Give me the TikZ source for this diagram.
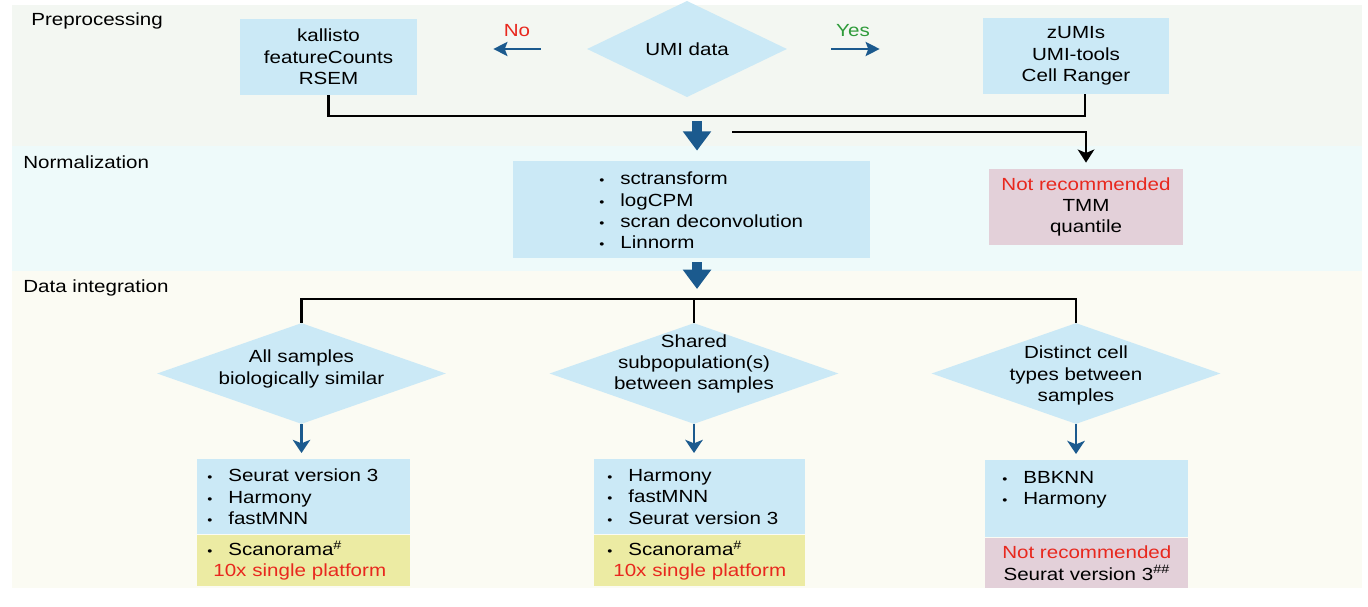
\documentclass[tikz,border=0pt]{standalone}
\usepackage{fontspec}
\setmainfont{Liberation Sans}[FakeStretch=1.17]
\usetikzlibrary{shapes.geometric,arrows.meta}
\definecolor{prepband}{HTML}{F3F7F2}
\definecolor{normband}{HTML}{EEFAFA}
\definecolor{intband}{HTML}{FBFBF3}
\definecolor{toolblue}{HTML}{CBE9F6}
\definecolor{warnpink}{HTML}{E3D0D9}
\definecolor{tenxyellow}{HTML}{ECEBA3}
\definecolor{flowblue}{HTML}{1B5A8E}
\definecolor{notred}{HTML}{E8281E}
\definecolor{yesgreen}{HTML}{2E9B3A}
\newcommand{\itm}{\makebox[0.42cm][l]{\scriptsize\textbullet}}

\begin{document}
\begin{tikzpicture}[x=0.02cm, y=-0.02cm, font=\fontsize{10}{12.2}\selectfont,
  tool/.style={rectangle, fill=toolblue, align=center, inner sep=0pt},
  warn/.style={rectangle, fill=warnpink, align=center, inner sep=0pt},
  tenx/.style={rectangle, fill=tenxyellow, align=left, inner sep=0pt},
  choice/.style={diamond, fill=toolblue, inner sep=0pt, minimum width=5.78cm, minimum height=2.02cm},
  link/.style={line width=1.2pt},
  bigarrow/.style={flowblue, line width=5.5pt, -{Triangle[length=11pt,width=15.5pt]}},
  smallarrow/.style={flowblue, line width=1.3pt, -{Stealth[length=7.5pt,width=10pt,inset=2pt]}}]
\useasboundingbox (0,0) rectangle (1368,607);
% bands
\fill[prepband] (12,5) rectangle (1362,146);
\fill[normband] (12,146) rectangle (1362,271);
\fill[intband] (12,271) rectangle (1362,588);
\node (preplabel) [anchor=base west, inner sep=0pt] at (31,26) {Preprocessing};
\node (normlabel) [anchor=base west, inner sep=0pt] at (23,169) {Normalization};
\node (intlabel) [anchor=base west, inner sep=0pt] at (23,293) {Data integration};

% preprocessing
\node (umi) [diamond, fill=toolblue, inner sep=0pt, minimum width=4cm, minimum height=1.36cm] at (687,49) {UMI data};
\node (kal) [tool, minimum width=3.54cm, minimum height=1.52cm] at (328.5,57) {kallisto\\featureCounts\\RSEM};
\node (zumi) [tool, minimum width=3.72cm, minimum height=1.52cm] at (1076,56) {zUMIs\\UMI-tools\\Cell Ranger};
\draw[flowblue, line width=1.4pt, -{Stealth[length=8pt,width=8pt,inset=1.5pt]}, shorten <=0.92cm, shorten >=1.52cm] (umi.west) -- (umi.west -| kal.east);
\draw[flowblue, line width=1.4pt, -{Stealth[length=8pt,width=8pt,inset=1.5pt]}, shorten <=0.88cm, shorten >=2.06cm] (umi.east) -- (umi.east -| zumi.west);
\node (no) [anchor=base, inner sep=0pt, text=notred] at (517,37) {No};
\node (yes) [anchor=base, inner sep=0pt, text=yesgreen] at (853,37) {Yes};
\coordinate (merge) at (697,116);
\draw[link] (kal.south) |- (merge) -| ([xshift=0.18cm]zumi.south);

% normalization
\node (norm) [tool, minimum width=7.14cm, minimum height=1.94cm] at (691.5,209.5) {};
\node (normlist) [anchor=west, align=left, inner sep=0pt] at (599,210.5) {\itm sctransform\\ \itm logCPM\\ \itm scran deconvolution\\ \itm Linnorm};
\node (notrec) [warn, minimum width=3.88cm, minimum height=1.52cm] at (1086,207) {\textcolor{notred}{Not recommended}\\TMM\\quantile};
\draw[bigarrow, shorten <=0.1cm, shorten >=0.2cm] (merge) -- (merge |- norm.north);
\coordinate (branch) at (732,132);
\draw[link, -{Stealth[length=7.5pt,width=9.5pt,inset=2pt]}, shorten >=0.12cm] (branch) -| (notrec.north);

% data integration
\coordinate (split) at (694,299);
\draw[bigarrow, shorten <=0.08cm, shorten >=0.2cm] (merge |- norm.south) -- (merge |- split);
\node (similar) [choice] at (301.5,373.5) {};
\node (shared) [choice] at (694,373.5) {};
\node (distinct) [choice] at (1076,373.5) {};
\node (similartxt) [align=center, inner sep=0pt] at (301.5,369) {All samples\\biologically similar};
\node (sharedtxt) [align=center, inner sep=0pt] at (694,364) {Shared\\subpopulation(s)\\between samples};
\node (distincttxt) [align=center, inner sep=0pt] at (1076,375.5) {Distinct cell\\types between\\samples};
\draw[link] (similar.north) |- (split) -| (distinct.north);
\draw[link] (shared.north) -- (split);

\node (simtools) [tool, align=left, anchor=north west, minimum width=4.26cm, minimum height=1.5cm, text width=3.86cm] at (197,459) {\itm Seurat version 3\\ \itm Harmony\\ \itm fastMNN};
\node (simtenx) [tenx, anchor=north, minimum width=4.26cm, minimum height=1.02cm, text width=3.86cm] at (simtools.south) {\itm Scanorama\textsuperscript{\#}\\ \hspace{0.12cm}\textcolor{notred}{10x single platform}};
\node (shtools) [tool, align=left, anchor=north west, minimum width=4.22cm, minimum height=1.5cm, text width=3.7cm] at (594,459) {\itm Harmony\\ \itm fastMNN\\ \itm Seurat version 3};
\node (shtenx) [tenx, anchor=north, minimum width=4.22cm, minimum height=1.02cm, text width=3.7cm] at (shtools.south) {\itm Scanorama\textsuperscript{\#}\\ \hspace{0.12cm}\textcolor{notred}{10x single platform}};
\node (disttools) [tool, align=left, anchor=north west, minimum width=4.06cm, minimum height=1.54cm, text width=3.38cm] at (985,460) {\itm BBKNN\\ \itm Harmony\\ \mbox{}};
\node (distwarn) [warn, anchor=north, minimum width=4.06cm, minimum height=1.0cm] at (disttools.south) {\textcolor{notred}{Not recommended}\\Seurat version 3\textsuperscript{\#\#}};
\draw[smallarrow, shorten >=0.12cm] (similar.south) -- (similar.south |- simtools.north);
\draw[smallarrow, shorten >=0.12cm] (shared.south) -- (shared.south |- shtools.north);
\draw[smallarrow, shorten >=0.12cm] (distinct.south) -- (distinct.south |- disttools.north);
\end{tikzpicture}
\end{document}
